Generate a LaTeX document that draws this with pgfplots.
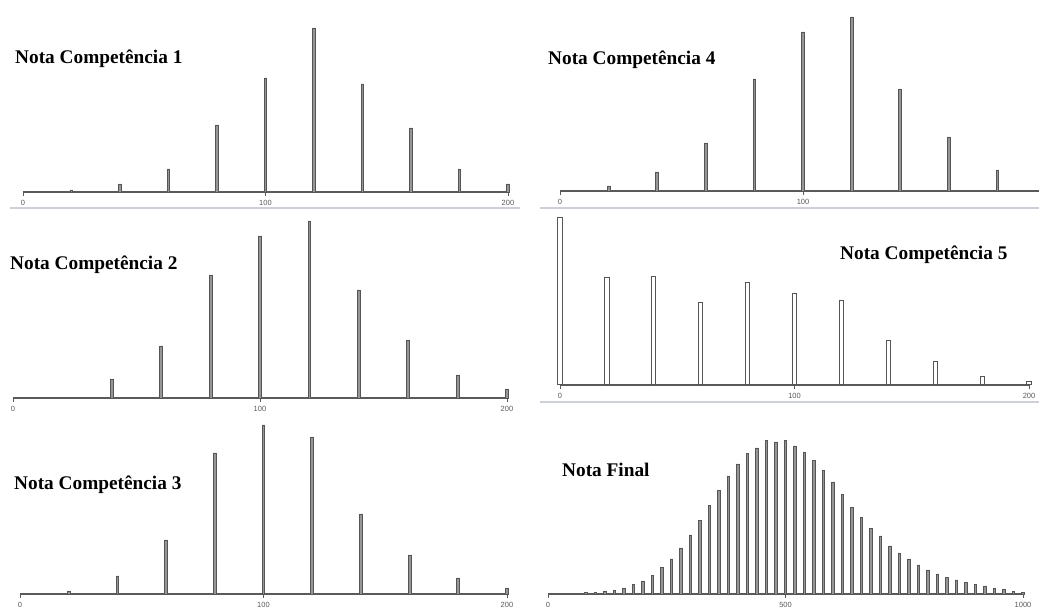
\documentclass[border=0pt]{standalone}
\usepackage{pgfplots}
\pgfplotsset{compat=1.18}
\usepackage{fontspec}
\setmainfont{Liberation Serif}
\newfontfamily\labfont{Liberation Sans}

\definecolor{axgray}{RGB}{90,90,90}
\definecolor{bargray}{RGB}{85,85,85}
\definecolor{barfill}{RGB}{150,150,150}
\definecolor{sepgray}{RGB}{205,208,214}

% common look of the six spike histograms
\pgfplotsset{
  spikes/.style={
    y=1pt,
    ymin=0, ymax=180,
    enlargelimits=false,
    clip=false,
    anchor=south west,
    axis x line=bottom,
    axis y line=none,
    axis line style={-, draw=axgray, line width=1.6pt},
    xtick align=outside,
    major tick length=4pt,
    tick style={draw=axgray, line width=0.6pt},
    ytick=\empty,
    tick label style={font=\labfont\fontsize{7.5}{8}\selectfont, text=axgray, inner sep=1pt},
    xticklabel style={yshift=-3pt},
    ybar, bar shift=0pt,
  },
  spike/.style={draw=bargray, fill=barfill, line width=0.9pt, bar width=2.8pt},
  hollow/.style={draw=bargray, fill=white, line width=1pt, bar width=4.2pt},
}

\newcommand{\paneltitle}[3]{\node[anchor=base west, inner sep=0pt]
  at (#1pt,#2pt) {\fontsize{19.3}{22}\selectfont\bfseries #3};}

\begin{document}
\begin{tikzpicture}[x=1pt,y=1pt]
\useasboundingbox (0,0) rectangle (1039,610);

% light rules under the upper panels
\draw[sepgray, line width=1.2pt] (10,402) -- (520,402);
\draw[sepgray, line width=1.2pt] (540,402) -- (1039,402);
\draw[sepgray, line width=1.2pt] (540,208) -- (1039,208);

% Nota Competencia 1
\begin{axis}[spikes, at={(23pt,418pt)}, x=2.425pt, xmin=0, xmax=200,
  xtick={0,100,200}, xticklabels={0,100,200}]
\addplot[spike] coordinates {(20,2) (40,8) (60,23) (80,67) (100,114) (120,164)
  (140,108) (160,64) (180,23) (200,8)};
\end{axis}

% Nota Competencia 2
\begin{axis}[spikes, at={(13pt,212pt)}, x=2.47pt, xmin=0, xmax=200,
  xtick={0,100,200}, xticklabels={0,100,200}]
\addplot[spike] coordinates {(40,19) (60,52) (80,123) (100,162) (120,177)
  (140,108) (160,58) (180,23) (200,9)};
\end{axis}

% Nota Competencia 3
\begin{axis}[spikes, at={(20pt,16pt)}, x=2.435pt, xmin=0, xmax=200,
  xtick={0,100,200}, xticklabels={0,100,200}]
\addplot[spike] coordinates {(20,3) (40,18) (60,54) (80,141) (100,169) (120,157)
  (140,80) (160,39) (180,16) (200,6)};
\end{axis}

% Nota Competencia 4
\begin{axis}[spikes, at={(560pt,419pt)}, x=2.43pt, xmin=0, xmax=200,
  xtick={0,100,200}, xticklabels={0,100,200}]
\addplot[spike] coordinates {(20,5) (40,19) (60,48) (80,112) (100,159) (120,174)
  (140,102) (160,54) (180,21) (200,6)};
\end{axis}

% Nota Competencia 5
\begin{axis}[spikes, at={(560pt,225pt)}, x=2.345pt, xmin=0, xmax=200,
  xtick={0,100,200}, xticklabels={0,100,200}]
\addplot[hollow] coordinates {(0,167) (20,107) (40,108) (60,82) (80,102) (100,91)
  (120,84) (140,44) (160,23) (180,8) (200,3)};
\end{axis}

% Nota Final
\begin{axis}[spikes, at={(548pt,16pt)}, x=0.475pt, xmin=0, xmax=1000,
  xtick={0,500,1000}, xticklabels={0,500,1000}]
\addplot[spike] coordinates {
  (80,1.5) (100,1.5) (120,3) (140,3.7) (160,6) (180,9.3) (200,13) (220,18.7)
  (240,26.7) (260,35) (280,46) (300,59) (320,73.3) (340,88.3) (360,103.3)
  (380,118) (400,130) (420,140.7) (440,146) (460,153.3) (480,152) (500,153.3)
  (520,148) (540,141.7) (560,133.7) (580,123.7) (600,112) (620,99.3) (640,86.7)
  (660,76.7) (680,65.3) (700,58) (720,48) (740,41) (760,35) (780,29) (800,24)
  (820,20) (840,16.7) (860,14) (880,11.7) (900,9.7) (920,8) (940,5.7)
  (960,4.3) (980,2.7) (1000,1.7)};
\end{axis}

\paneltitle{15}{546}{Nota Competência 1}
\paneltitle{10}{340}{Nota Competência 2}
\paneltitle{14}{120}{Nota Competência 3}
\paneltitle{548}{545}{Nota Competência 4}
\paneltitle{840}{350}{Nota Competência 5}
\paneltitle{562}{133}{Nota Final}
\end{tikzpicture}
\end{document}
